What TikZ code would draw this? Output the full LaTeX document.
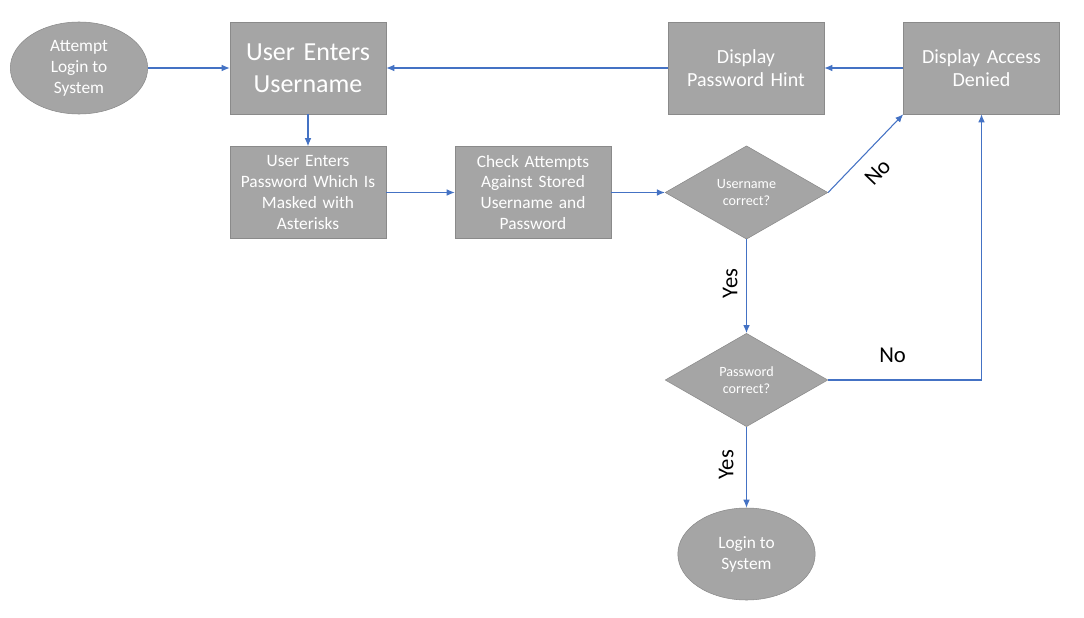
\documentclass[tikz,border=0pt]{standalone}
\usepackage{fontspec}
\setmainfont{Carlito}
\usetikzlibrary{shapes.geometric,arrows.meta}

\definecolor{boxgray}{HTML}{A5A5A5}
\definecolor{edgegray}{HTML}{8A8A8A}
\definecolor{linkblue}{HTML}{4472C4}

\begin{document}
\begin{tikzpicture}[x=0.75pt,y=-0.75pt,
    stepbox/.style={draw=edgegray,fill=boxgray,text=white,minimum width=117pt,minimum height=69pt,
      inner sep=2pt,align=center,text width=112pt,font=\fontsize{13}{15.7}\selectfont},
    termbox/.style={ellipse,draw=edgegray,fill=boxgray,text=white,minimum width=103pt,minimum height=69pt,
      inner sep=0pt,align=center,font=\fontsize{13}{15.7}\selectfont},
    askbox/.style={diamond,draw=edgegray,fill=boxgray,text=white,minimum width=122pt,minimum height=70pt,
      inner sep=0pt,align=center,font=\fontsize{10.6}{12.8}\selectfont},
    link/.style={draw=linkblue,line width=0.8pt,-{Latex[length=6pt,width=5pt]}},
    answer/.style={font=\fontsize{17}{20}\selectfont,text=black}]
  \useasboundingbox (0,0) rectangle (1084,617);
  % first row
  \node[termbox] (start) at (79,68) {Attempt\\Login to\\System};
  \node[stepbox,font=\fontsize{19.5}{24}\selectfont] (username) at (308,68) {User Enters\\Username};
  \node[stepbox,font=\fontsize{15}{17.5}\selectfont] (hint) at (746,68) {Display\\Password Hint};
  \node[stepbox,font=\fontsize{15}{17.5}\selectfont] (denied) at (981.5,68) {Display Access\\Denied};
  % second row
  \node[stepbox] (password) at (308,192.5) {User Enters\\Password Which Is\\Masked with\\Asterisks};
  \node[stepbox] (check) at (533,192.5) {Check Attempts\\Against Stored\\Username and\\Password};
  \node[askbox] (ucheck) at (746.5,192.5) {Username\\correct?};
  % down the middle
  \node[askbox] (pcheck) at (746.5,380) {Password\\correct?};
  \node[termbox] (login) at (746.5,554) {Login to\\System};

  \draw[link] (start) -- (username);
  \draw[link] (hint) -- (username);
  \draw[link] (denied) -- (hint);
  \draw[link] (username) -- (password);
  \draw[link] (password) -- (check);
  \draw[link] (check) -- (ucheck);
  \draw[link] (ucheck.east) -- node[answer,sloped,below=7pt,pos=0.45] {No} (denied.south west);
  \draw[link] (ucheck.south) -- node[answer,rotate=90,anchor=south,pos=0.47,yshift=3pt] {Yes} (pcheck.north);
  \draw[link] (pcheck.east) -| node[answer,above=9pt,pos=0.21] {No} (denied.south);
  \draw[link] (pcheck.south) -- node[answer,rotate=90,anchor=south,pos=0.47,yshift=6pt] {Yes} (login.north);
\end{tikzpicture}
\end{document}
